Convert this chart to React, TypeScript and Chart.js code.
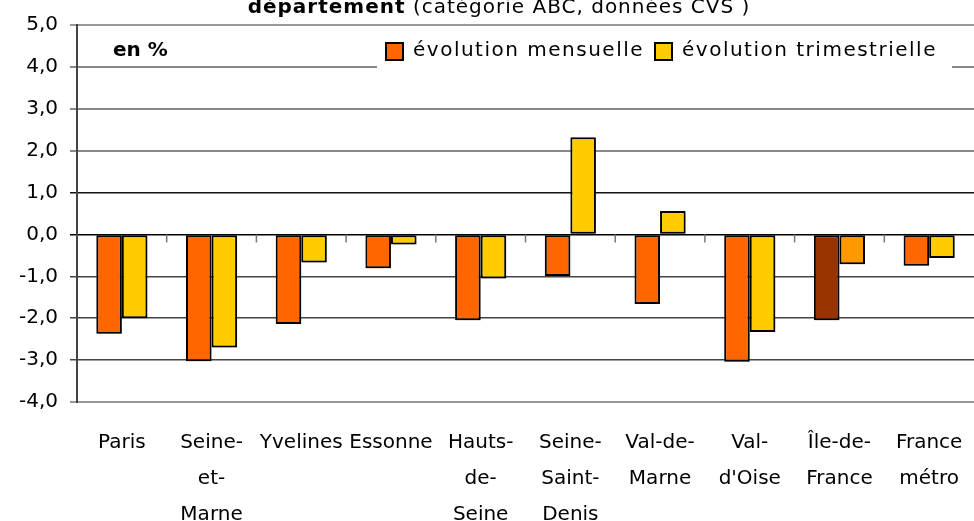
import React, { useEffect, useRef } from "react";
import { Chart, registerables } from "chart.js";

Chart.register(...registerables);

const categories: string[][] = [
  ["Paris"],
  ["Seine-", "et-", "Marne"],
  ["Yvelines"],
  ["Essonne"],
  ["Hauts-", "de-", "Seine"],
  ["Seine-", "Saint-", "Denis"],
  ["Val-de-", "Marne"],
  ["Val-", "d'Oise"],
  ["Île-de-", "France"],
  ["France", "métro"],
];

const mensuelle = [-2.37, -3.03, -2.14, -0.81, -2.05, -0.99, -1.66, -3.04, -2.05, -0.75];
const trimestrielle = [-2.0, -2.7, -0.67, -0.24, -1.05, 2.32, 0.56, -2.33, -0.71, -0.56];

const mensuelleColors = ["#FF6600", "#FF6600", "#FF6600", "#FF6600", "#FF6600", "#FF6600", "#FF6600", "#FF6600", "#993300", "#FF6600"];
const trimestrielleColors = ["#FFCC00", "#FFCC00", "#FFCC00", "#FFCC00", "#FFCC00", "#FFCC00", "#FFCC00", "#FFCC00", "#FF9900", "#FFCC00"];

const seriesLabels = ["évolution mensuelle", "évolution trimestrielle"];
const titleBold = "département";
const titleRest = " (catégorie ABC, données CVS )";
const unitLabel = "en %";

const FONT = "'DejaVu Sans', sans-serif";

const shadowPlugin = {
  id: "barShadow",
  beforeDatasetsDraw(chart: any) {
    const ctx = chart.ctx as CanvasRenderingContext2D;
    ctx.save();
    ctx.shadowColor = "rgba(0,0,0,0.25)";
    ctx.shadowOffsetX = 1.5;
    ctx.shadowOffsetY = 1.5;
    ctx.shadowBlur = 1;
  },
  afterDatasetsDraw(chart: any) {
    chart.ctx.restore();
  },
};

const decorPlugin = {
  id: "decor",
  afterDraw(chart: any) {
    const ctx = chart.ctx as CanvasRenderingContext2D;
    const x = chart.scales.x;
    const y = chart.scales.y;
    ctx.save();
    // small ticks on the zero line
    const y0 = y.getPixelForValue(0);
    ctx.strokeStyle = "#777";
    ctx.lineWidth = 1.5;
    for (let i = 1; i < categories.length; i++) {
      const px = (x.getPixelForValue(i - 1) + x.getPixelForValue(i)) / 2;
      ctx.beginPath();
      ctx.moveTo(px, y0);
      ctx.lineTo(px, y0 + 8);
      ctx.stroke();
    }

    // title (partly cut at top)
    ctx.fillStyle = "#000";
    ctx.textBaseline = "alphabetic";
    ctx.textAlign = "left";
    (ctx as any).letterSpacing = "1px";
    ctx.font = `bold 20px ${FONT}`;
    const wb = ctx.measureText(titleBold).width;
    ctx.font = `20px ${FONT}`;
    const wr = ctx.measureText(titleRest).width;
    const tx = 499 - (wb + wr) / 2;
    ctx.font = `bold 20px ${FONT}`;
    ctx.fillText(titleBold, tx, 13);
    ctx.font = `20px ${FONT}`;
    ctx.fillText(titleRest, tx + wb, 13);

    // "en %"
    (ctx as any).letterSpacing = "0px";
    ctx.font = `bold 20px ${FONT}`;
    ctx.textBaseline = "middle";
    ctx.fillText(unitLabel, 113, 51);

    // legend box
    ctx.fillStyle = "#fff";
    ctx.fillRect(377, 32, 575, 40);
    const items = [
      { sq: 386, tx: 413, color: mensuelleColors[0], label: seriesLabels[0] },
      { sq: 655, tx: 682, color: trimestrielleColors[0], label: seriesLabels[1] },
    ];
    (ctx as any).letterSpacing = "1.5px";
    ctx.font = `20px ${FONT}`;
    for (const it of items) {
      ctx.fillStyle = it.color;
      ctx.fillRect(it.sq, 43, 17, 17);
      ctx.strokeStyle = "#000";
      ctx.lineWidth = 2;
      ctx.strokeRect(it.sq, 43, 17, 17);
      ctx.fillStyle = "#000";
      ctx.fillText(it.label, it.tx, 51);
    }
    ctx.restore();
  },
};

function gridColor(v: number) {
  if (v === 0) return "#000";
  if (v === 1) return "#111";
  if (v === 5 || v === -4) return "#999";
  if (v > 1) return "#888";
  return "#444";
}

export default function App() {
  const ref = useRef<HTMLCanvasElement | null>(null);
  useEffect(() => {
    if (!ref.current) return;
    const chart = new Chart(ref.current, {
      type: "bar",
      data: {
        labels: categories,
        datasets: [
          {
            label: seriesLabels[0],
            data: mensuelle,
            backgroundColor: mensuelleColors,
            borderColor: "#000",
            borderWidth: 2,
            borderSkipped: false,
          },
          {
            label: seriesLabels[1],
            data: trimestrielle,
            backgroundColor: trimestrielleColors,
            borderColor: "#000",
            borderWidth: 2,
            borderSkipped: false,
          },
        ],
      },
      options: {
        responsive: false,
        animation: false,
        layout: { padding: { top: 25, right: 0, left: 0, bottom: 0 } },
        datasets: { bar: { categoryPercentage: 0.57, barPercentage: 1.0 } },
        plugins: {
          legend: { display: false },
          title: { display: false },
          tooltip: { enabled: false },
        },
        scales: {
          x: {
            grid: { display: false },
            border: { display: false },
            ticks: {
              color: "#000",
              font: { family: FONT, size: 20, lineHeight: 1.8 },
              padding: 15,
              maxRotation: 0,
              autoSkip: false,
            },
            afterFit(scale: any) {
              scale.height = 119;
              scale.paddingRight = 0;
              scale.paddingLeft = 0;
            },
          },
          y: {
            min: -4,
            max: 5,
            grid: {
              color: (c: any) => gridColor(c.tick ? c.tick.value : 0),
              lineWidth: (c: any) => {
                const v = c.tick ? c.tick.value : 0;
                return v === 5 || v === -4 || v > 1 ? 2 : 1.5;
              },
              tickLength: 7,
            },
            border: { display: true, color: "#444", width: 2 },
            ticks: {
              stepSize: 1,
              color: "#000",
              padding: 12,
              font: { family: FONT, size: 20 },
              callback: (v: any) => Number(v).toFixed(1).replace(".", ","),
            },
            afterFit(scale: any) {
              scale.width = 77;
            },
          },
        },
      },
      plugins: [shadowPlugin, decorPlugin],
    });
    return () => chart.destroy();
  }, []);
  return (
    <div style={{ position: "absolute", left: 0, top: 0, width: 974, height: 521, background: "#fff" }}>
      <canvas ref={ref} width={974} height={521} style={{ display: "block" }} />
    </div>
  );
}
